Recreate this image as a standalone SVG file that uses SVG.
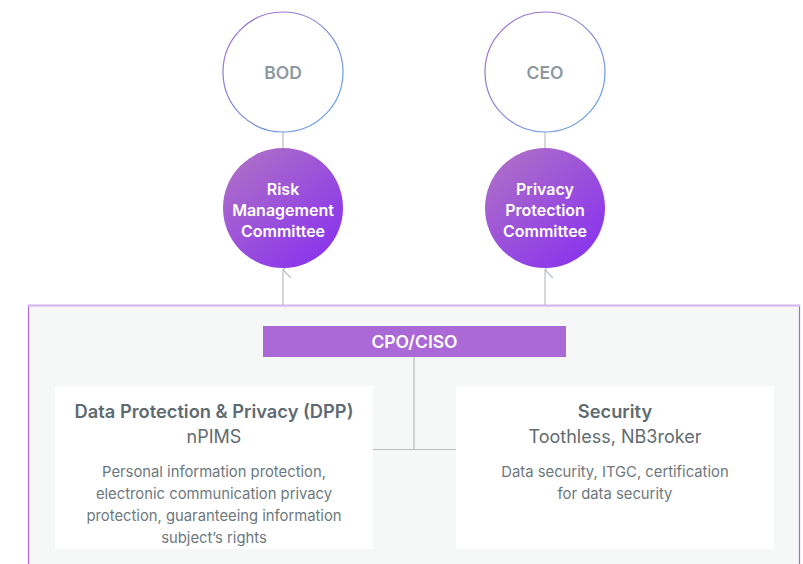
<svg xmlns="http://www.w3.org/2000/svg" width="803" height="564" viewBox="0 0 803 564">
<defs>
<linearGradient id="ring" x1="0" y1="0" x2="1" y2="1">
<stop offset="0" stop-color="#a569c9"/>
<stop offset="1" stop-color="#5fa8e8"/>
</linearGradient>
<linearGradient id="fillg" x1="0.15" y1="0.1" x2="0.85" y2="0.9">
<stop offset="0" stop-color="#ac6cc9"/>
<stop offset="1" stop-color="#8a35ec"/>
</linearGradient>
<marker id="arr" markerWidth="18" markerHeight="10" refX="9" refY="1" orient="auto-start-reverse" markerUnits="userSpaceOnUse" viewBox="0 0 18 10">
<path d="M1,9 L9,1 L17,9" fill="none" stroke="#b9bec2" stroke-width="1.2"/>
</marker>
<style>
text{font-family:Inter,Roboto,"Liberation Sans",Arial,sans-serif;text-anchor:middle}
.ring{fill:#fff;stroke:url(#ring);stroke-width:1.2}
.top{fill:#8d999f;font-size:17.5px;font-weight:600}
.cm{fill:url(#fillg)}
.cmt{fill:#fff;font-size:16px;font-weight:600}
.line{stroke:#b9bec2;stroke-width:1.2;fill:none}
.box{fill:#fff}
.h{fill:#5f6b72;font-size:18.3px;font-weight:600}
.s{fill:#5f6b72;font-size:18px}
.d{fill:#6d787e;font-size:14.8px}
</style>
</defs>
<rect width="803" height="564" fill="#fff"/>
<g id="container">
<rect x="28.5" y="305.5" width="771" height="270" fill="#f6f7f7" stroke="#a86ad6" stroke-width="1.2"/>
<line x1="28" y1="305.5" x2="800" y2="305.5" stroke="#d9b8ef" stroke-width="2"/>
</g>
<g id="connectors">
<line class="line" x1="283" y1="132" x2="283" y2="148"/>
<line class="line" x1="545" y1="132" x2="545" y2="148"/>
<line class="line" x1="283" y1="305" x2="283" y2="270" marker-end="url(#arr)"/>
<line class="line" x1="545" y1="305" x2="545" y2="270" marker-end="url(#arr)"/>
<line class="line" x1="414" y1="357" x2="414" y2="449.5"/>
<line class="line" x1="373" y1="449.5" x2="456" y2="449.5"/>
</g>
<g id="bod">
<circle class="ring" cx="283" cy="72" r="60"/>
<text class="top" x="283" y="79">BOD</text>
</g>
<g id="ceo">
<circle class="ring" cx="545" cy="72" r="60"/>
<text class="top" x="545" y="79">CEO</text>
</g>
<g id="risk">
<circle class="cm" cx="283" cy="208" r="60"/>
<text class="cmt" x="283" y="195">Risk</text>
<text class="cmt" x="283" y="216">Management</text>
<text class="cmt" x="283" y="237">Committee</text>
</g>
<g id="privacy">
<circle class="cm" cx="545" cy="208" r="60"/>
<text class="cmt" x="545" y="195">Privacy</text>
<text class="cmt" x="545" y="216">Protection</text>
<text class="cmt" x="545" y="237">Committee</text>
</g>
<g id="cpo">
<rect x="263" y="326" width="303" height="31" fill="#ab69d8"/>
<text x="414.5" y="347.5" fill="#fff" font-size="17.5" font-weight="600">CPO/CISO</text>
</g>
<g id="dpp">
<rect class="box" x="55" y="386" width="318" height="163"/>
<text class="h" x="214" y="418">Data Protection &amp; Privacy (DPP)</text>
<text class="s" x="214" y="443">nPIMS</text>
<text class="d" x="214" y="477">Personal information protection,</text>
<text class="d" x="214" y="499">electronic communication privacy</text>
<text class="d" x="214" y="521">protection, guaranteeing information</text>
<text class="d" x="214" y="543">subject’s rights</text>
</g>
<g id="security">
<rect class="box" x="456" y="386" width="318" height="163"/>
<text class="h" x="615" y="418">Security</text>
<text class="s" x="615" y="443">Toothless, NB3roker</text>
<text class="d" x="615" y="477">Data security, ITGC, certification</text>
<text class="d" x="615" y="499">for data security</text>
</g>
</svg>
